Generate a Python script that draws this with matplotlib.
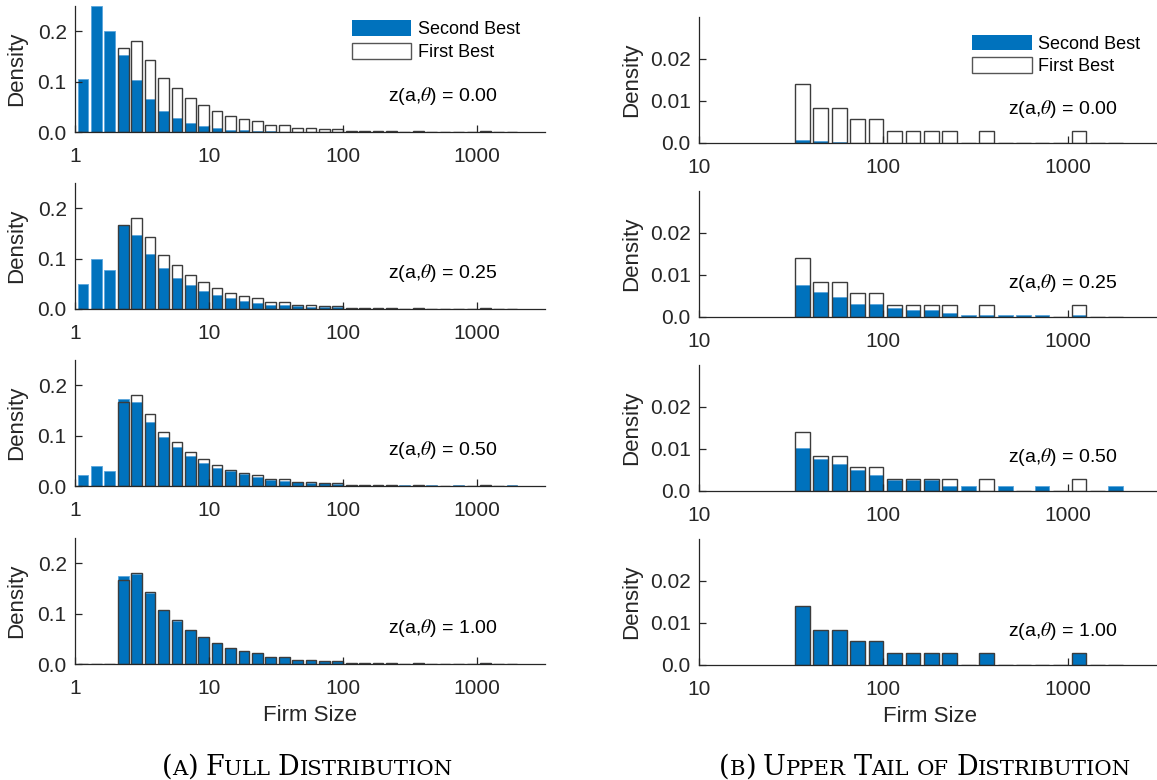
import numpy as np
import matplotlib
matplotlib.use('Agg')
import matplotlib.pyplot as plt
from matplotlib.patches import Patch

plt.rcParams['font.family'] = ['Liberation Sans', 'DejaVu Sans']
plt.rcParams['mathtext.fontset'] = 'stix'

# firm-size bins: bin k covers roughly 10^(0.1k) .. 10^(0.1(k+1))
bins = np.arange(33)

first_best = [0, 0, 0, 0.166, 0.180, 0.142, 0.108, 0.088, 0.0675, 0.054, 0.042,
              0.0315, 0.026, 0.022, 0.014, 0.014, 0.0084, 0.0084, 0.0056, 0.0056,
              0.0028, 0.0028, 0.0028, 0.0028, 0, 0.0028, 0, 0, 0, 0, 0.0028, 0, 0]

sb_000 = [0.105, 0.25, 0.201, 0.153, 0.104, 0.066, 0.0426, 0.0275, 0.0177, 0.0118,
          0.0077, 0.0047, 0.003, 0.002, 0.0012, 0.0007, 0.0004, 0.0002, 0.0001, 0,
          0, 0, 0, 0, 0, 0, 0, 0, 0, 0, 0, 0, 0]

sb_025 = [0.050, 0.099, 0.0766, 0.166, 0.1465, 0.1096, 0.0818, 0.062, 0.0475, 0.0356,
          0.0277, 0.021, 0.0165, 0.0125, 0.0086, 0.0076, 0.0060, 0.0048, 0.0032, 0.0032,
          0.0021, 0.0016, 0.0016, 0.0010, 0.0005, 0.0005, 0.0005, 0.0005, 0.0005, 0,
          0.0005, 0, 0]

sb_050 = [0.022, 0.040, 0.0306, 0.172, 0.166, 0.1276, 0.098, 0.0764, 0.0598, 0.0465,
          0.0359, 0.029, 0.024, 0.0185, 0.0125, 0.0103, 0.0076, 0.0064, 0.0051, 0.0038,
          0.0027, 0.0027, 0.0027, 0.0011, 0.0011, 0, 0.0011, 0, 0.0011, 0,
          0, 0, 0.0011]

sb_100 = [0, 0, 0, 0.175, 0.179, 0.140, 0.107, 0.086, 0.0675, 0.054, 0.042,
          0.031, 0.025, 0.021, 0.014, 0.014, 0.0084, 0.0084, 0.0056, 0.0056,
          0.0028, 0.0028, 0.0028, 0.0028, 0, 0.0028, 0, 0, 0, 0, 0.0028, 0, 0]

second_best = [sb_000, sb_025, sb_050, sb_100]
z_labels = ['0.00', '0.25', '0.50', '1.00']

blue = '#0072BD'
edge = '#3c3c3c'
axcol = '#262626'

W, H = 1157, 780
fig = plt.figure(figsize=(W / 100, H / 100), dpi=100)

bar_left = 10 ** (0.1 * bins + 0.02)
bar_width = bar_left * (10 ** 0.08 - 1)

left_bottoms = [132, 309, 486, 664]
right_bottoms = [143, 317, 491, 665]


def style_axis(ax):
    for s in ['top', 'right']:
        ax.spines[s].set_visible(False)
    for s in ['left', 'bottom']:
        ax.spines[s].set_color(axcol)
        ax.spines[s].set_linewidth(0.9)
    ax.tick_params(direction='in', length=5, width=0.9, color=axcol,
                   labelcolor=axcol, labelsize=15)
    ax.tick_params(axis='x', pad=11)
    ax.tick_params(axis='y', pad=6)
    ax.minorticks_off()


for row in range(4):
    sb = np.array(second_best[row])
    fb = np.array(first_best)

    # full distribution
    ax = fig.add_axes([75 / W, (H - left_bottoms[row]) / H, 470 / W, 126 / H])
    ax.set_xscale('log')
    ax.bar(bar_left, sb, width=bar_width, align='edge', color=blue,
           edgecolor='#5aa6dc', linewidth=0.6, label='Second Best')
    ax.bar(bar_left, fb, width=bar_width, align='edge', facecolor='none',
           edgecolor=edge, linewidth=1.0, label='First Best')
    ax.set_xlim(1, 3200)
    ax.set_ylim(0, 0.25)
    style_axis(ax)
    ax.set_xticks([1, 10, 100, 1000])
    ax.set_xticklabels(['1', '10', '100', '1000'])
    ax.set_yticks([0, 0.1, 0.2])
    ax.set_yticklabels(['0.0', '0.1', '0.2'])
    ax.set_ylabel('Density', fontsize=16, color=axcol)
    ax.yaxis.set_label_coords(-0.102, 0.5)
    ax.text(0.666, 0.285, r'z(a,$\theta$) = ' + z_labels[row], transform=ax.transAxes,
            fontsize=14, va='center', ha='left', color='black')
    if row == 0:
        handles = [Patch(facecolor=blue, edgecolor='none'),
                   Patch(facecolor='white', edgecolor='#555555', linewidth=1.0)]
        ax.legend(handles, ['Second Best', 'First Best'], loc='upper left',
                  bbox_to_anchor=(0.589, 0.885), frameon=False, fontsize=13,
                  handlelength=3.3, handleheight=0.95, labelspacing=0.25,
                  handletextpad=0.35, borderpad=0, borderaxespad=0)
    if row == 3:
        ax.set_xlabel('Firm Size', fontsize=16, color=axcol)
        ax.xaxis.set_label_coords(0.5, -0.325)

    # upper tail
    tail = bins >= 15
    ax = fig.add_axes([699 / W, (H - right_bottoms[row]) / H, 462 / W, 126 / H])
    ax.set_xscale('log')
    ax.bar(bar_left[tail], sb[tail], width=bar_width[tail], align='edge', color=blue,
           edgecolor='#5aa6dc', linewidth=0.6)
    ax.bar(bar_left[tail], fb[tail], width=bar_width[tail], align='edge',
           facecolor='none', edgecolor=edge, linewidth=1.0)
    ax.set_xlim(10, 3200)
    ax.set_ylim(0, 0.03)
    style_axis(ax)
    ax.set_xticks([10, 100, 1000])
    ax.set_xticklabels(['10', '100', '1000'])
    ax.set_yticks([0, 0.01, 0.02])
    ax.set_yticklabels(['0.0', '0.01', '0.02'])
    ax.set_ylabel('Density', fontsize=16, color=axcol)
    ax.yaxis.set_label_coords(-0.123, 0.5)
    ax.text(0.669, 0.27, r'z(a,$\theta$) = ' + z_labels[row], transform=ax.transAxes,
            fontsize=14, va='center', ha='left', color='black')
    if row == 0:
        handles = [Patch(facecolor=blue, edgecolor='none'),
                   Patch(facecolor='white', edgecolor='#555555', linewidth=1.0)]
        ax.legend(handles, ['Second Best', 'First Best'], loc='upper left',
                  bbox_to_anchor=(0.591, 0.86), frameon=False, fontsize=13,
                  handlelength=3.3, handleheight=0.95, labelspacing=0.25,
                  handletextpad=0.35, borderpad=0, borderaxespad=0)
    if row == 3:
        ax.set_xlabel('Firm Size', fontsize=16, color=axcol)
        ax.xaxis.set_label_coords(0.5, -0.325)


# captions in small caps, built from pieces
BIG, SMALL = 19.5, 15.3


def caption(xc, y_px, parts):
    renderer = fig.canvas.get_renderer()
    texts, widths = [], []
    for s, size in parts:
        if s == ' ':
            texts.append(None)
            widths.append(0.28 * BIG * 100 / 72)
            continue
        t = fig.text(0, 1 - y_px / H, s, fontsize=size, family='DejaVu Serif',
                     va='baseline', ha='left', color='black')
        texts.append(t)
        widths.append(t.get_window_extent(renderer).width)
    x = xc - sum(widths) / 2
    for t, w in zip(texts, widths):
        if t is not None:
            t.set_x(x / W)
        x += w


sp = (' ', BIG)
caption(307, 775, [('(', BIG), ('A', SMALL), (')', BIG), sp, ('F', BIG), ('ULL', SMALL),
                   sp, ('D', BIG), ('ISTRIBUTION', SMALL)])
caption(925, 775, [('(', BIG), ('B', SMALL), (')', BIG), sp, ('U', BIG), ('PPER', SMALL),
                   sp, ('T', BIG), ('AIL', SMALL), sp, ('OF', SMALL), sp,
                   ('D', BIG), ('ISTRIBUTION', SMALL)])

fig.savefig('out.png', dpi=100)
